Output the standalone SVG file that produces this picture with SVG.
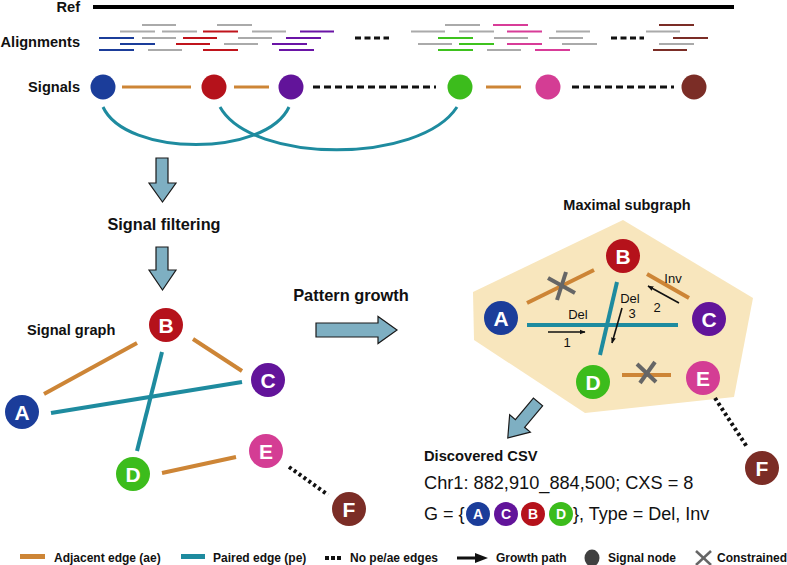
<svg xmlns="http://www.w3.org/2000/svg" width="787" height="565" viewBox="0 0 787 565">
<style>
text{font-family:"Liberation Sans",Arial,sans-serif;fill:#111}
.b{font-weight:bold}
.lbl{font-weight:bold;font-size:14.6px;text-anchor:end}
.ae{stroke:#cd8536;stroke-width:4;fill:none}
.pe{stroke:#1e8b9f;stroke-width:4;fill:none}
.ae3{stroke:#cd8536;stroke-width:3;fill:none}
.pe3{stroke:#1e8b9f;stroke-width:3;fill:none}
.no{stroke:#111;stroke-width:4;stroke-dasharray:3 3;fill:none}
.dash{stroke:#111;stroke-width:3;stroke-dasharray:7 4;fill:none}
.g{stroke:#aaaaaa;stroke-width:2}
.bl{stroke:#1b3d9a;stroke-width:2}
.rd{stroke:#c0141c;stroke-width:2}
.pu{stroke:#6a14a6;stroke-width:2}
.gr{stroke:#3ec21e;stroke-width:2}
.pk{stroke:#d83c98;stroke-width:2}
.br{stroke:#7b2d26;stroke-width:2}
.arrow{fill:#7eafc2;stroke:#1a1a1a;stroke-width:1.2}
.x{stroke:#666;stroke-width:4;fill:none}
.gp{stroke:#111;stroke-width:1.6;fill:none}
.nl{fill:#fff;font-weight:bold;font-size:21px;text-anchor:middle}
.sl{fill:#fff;font-weight:bold;font-size:14px;text-anchor:middle}
.cA{fill:#1b3d9a}.cB{fill:#b5121b}.cC{fill:#62149a}.cD{fill:#3cbc1c}.cE{fill:#d43d94}.cF{fill:#7b2d26}
.el{font-size:13px;text-anchor:middle}
.leg{font-weight:bold;font-size:12px}
</style>
<defs>
<marker id="ah" viewBox="0 0 10 10" refX="9" refY="5" markerWidth="6" markerHeight="6" orient="auto" markerUnits="userSpaceOnUse">
<path d="M0,1 L10,5 L0,9 z" fill="#111"/>
</marker>
</defs>

<!-- Top: reference, alignments, signals -->
<g id="ref">
<text class="lbl" x="80" y="12">Ref</text>
<line x1="93" y1="7" x2="734" y2="7" stroke="#000" stroke-width="4"/>
</g>
<g id="alignments">
<text class="lbl" x="80" y="47">Alignments</text>
<line class="g" x1="142" y1="25" x2="176" y2="25"/>
<line class="g" x1="217" y1="25" x2="252" y2="25"/>
<line class="g" x1="120" y1="31.5" x2="155" y2="31.5"/>
<line class="g" x1="162" y1="31.5" x2="197" y2="31.5"/>
<line class="rd" x1="203" y1="31.5" x2="238" y2="31.5"/>
<line class="g" x1="252" y1="31.5" x2="286" y2="31.5"/>
<line class="pu" x1="300" y1="31.5" x2="334" y2="31.5"/>
<line class="bl" x1="99" y1="38" x2="134" y2="38"/>
<line class="g" x1="142" y1="38" x2="176" y2="38"/>
<line class="rd" x1="183" y1="38" x2="217" y2="38"/>
<line class="g" x1="238" y1="38" x2="272" y2="38"/>
<line class="pu" x1="286" y1="38" x2="321" y2="38"/>
<line class="bl" x1="120" y1="44" x2="155" y2="44"/>
<line class="rd" x1="176" y1="44" x2="210" y2="44"/>
<line class="g" x1="224" y1="44" x2="258" y2="44"/>
<line class="pu" x1="272" y1="44" x2="307" y2="44"/>
<line class="bl" x1="99" y1="50" x2="134" y2="50"/>
<line class="g" x1="148" y1="50" x2="182" y2="50"/>
<line class="rd" x1="203" y1="50" x2="238" y2="50"/>
<line class="pu" x1="279" y1="50" x2="314" y2="50"/>
<line x1="355" y1="38" x2="389" y2="38" stroke="#111" stroke-width="3" stroke-dasharray="6 3.5"/>
<line class="g" x1="445" y1="25" x2="480" y2="25"/>
<line class="pk" x1="493" y1="25" x2="528" y2="25"/>
<line class="br" x1="659" y1="25" x2="694" y2="25"/>
<line class="g" x1="411" y1="31.5" x2="445" y2="31.5"/>
<line class="g" x1="459" y1="31.5" x2="494" y2="31.5"/>
<line class="pk" x1="507" y1="31.5" x2="542" y2="31.5"/>
<line class="g" x1="556" y1="31.5" x2="590" y2="31.5"/>
<line class="g" x1="646" y1="31.5" x2="680" y2="31.5"/>
<line class="gr" x1="438" y1="38" x2="473" y2="38"/>
<line class="g" x1="494" y1="38" x2="528" y2="38"/>
<line class="g" x1="549" y1="38" x2="583" y2="38"/>
<line x1="611" y1="38" x2="644" y2="38" stroke="#111" stroke-width="3" stroke-dasharray="6 3.5"/>
<line class="br" x1="673" y1="38" x2="708" y2="38"/>
<line class="g" x1="418" y1="44" x2="452" y2="44"/>
<line class="gr" x1="459" y1="44" x2="494" y2="44"/>
<line class="pk" x1="507" y1="44" x2="542" y2="44"/>
<line class="g" x1="562" y1="44" x2="597" y2="44"/>
<line class="g" x1="659" y1="44" x2="694" y2="44"/>
<line class="gr" x1="438" y1="50" x2="473" y2="50"/>
<line class="g" x1="487" y1="50" x2="521" y2="50"/>
<line class="pk" x1="535" y1="50" x2="570" y2="50"/>
<line class="br" x1="653" y1="50" x2="687" y2="50"/>
</g>
<g id="signals-connectors">
<line class="ae3" x1="122" y1="87" x2="191" y2="87"/>
<line class="ae3" x1="234" y1="87" x2="269" y2="87"/>
<line class="ae3" x1="486" y1="87" x2="521" y2="87"/>
<line class="dash" x1="313" y1="87" x2="436" y2="87"/>
<line class="dash" x1="572" y1="87" x2="674" y2="87"/>
<path class="pe3" d="M103,107 C126,157 266,157 289,107"/>
<path class="pe3" d="M220,107 C252,164 420,164 457,107"/>
</g>
<g id="signals">
<text class="lbl" x="80" y="92">Signals</text>
<circle class="cA" cx="103" cy="87" r="12.5"/>
<circle class="cB" cx="214" cy="87" r="12.5"/>
<circle class="cC" cx="291" cy="87" r="12.5"/>
<circle class="cD" cx="460" cy="87" r="12.5"/>
<circle class="cE" cx="548" cy="87" r="12.5"/>
<circle class="cF" cx="694" cy="87" r="12.5"/>
</g>

<!-- Flow arrows -->
<g id="arrow-filter">
<polygon class="arrow" points="156,158 168,158 168,183 176,183 162.5,202 149,183 156,183"/>
</g>
<g id="step-filter"><text class="b" x="164" y="230" font-size="16.3" text-anchor="middle">Signal filtering</text></g>
<g id="arrow-graph">
<polygon class="arrow" points="156,247 168,247 168,270 176,270 162.5,290 149,270 156,270"/>
</g>
<g id="step-growth"><text class="b" x="351" y="301" font-size="16.4" text-anchor="middle">Pattern growth</text></g>
<g id="arrow-growth">
<polygon class="arrow" points="316,323 378,323 378,316.5 397,330 378,343.5 378,337 316,337"/>
</g>

<!-- Signal graph -->
<g id="signal-graph-title"><text class="b" x="27" y="335" font-size="14.6">Signal graph</text></g>
<g id="signal-graph-edges">
<line class="ae" x1="44" y1="394" x2="137" y2="343"/>
<line class="ae" x1="193" y1="339" x2="242" y2="371"/>
<line class="pe" x1="51" y1="413" x2="242" y2="382"/>
<line class="pe" x1="162" y1="352" x2="137" y2="451"/>
<line class="ae" x1="162" y1="473" x2="236" y2="457"/>
<line class="no" x1="289" y1="467" x2="328" y2="495"/>
</g>
<g id="sg-B"><circle class="cB" cx="166" cy="325" r="17"/><text class="nl" x="166" y="332.5">B</text></g>
<g id="sg-A"><circle class="cA" cx="22" cy="412" r="17"/><text class="nl" x="22" y="419.5">A</text></g>
<g id="sg-C"><circle class="cC" cx="268" cy="380" r="17"/><text class="nl" x="268" y="387.5">C</text></g>
<g id="sg-D"><circle class="cD" cx="133" cy="474" r="17"/><text class="nl" x="133" y="481.5">D</text></g>
<g id="sg-E"><circle class="cE" cx="266" cy="451" r="17"/><text class="nl" x="266" y="458.5">E</text></g>
<g id="sg-F"><circle class="cF" cx="349" cy="509" r="17"/><text class="nl" x="349" y="516.5">F</text></g>

<!-- Maximal subgraph -->
<g id="maximal-subgraph">
<text class="b" x="627" y="210" font-size="14.5" text-anchor="middle">Maximal subgraph</text>
<polygon points="623,220 753,298 734,397 585,413 474,340 473,292" fill="#f8e6bd"/>
</g>
<g id="ms-edges">
<line class="ae" x1="527" y1="303" x2="594" y2="270"/>
<line class="x" x1="548" y1="278" x2="575" y2="293"/>
<line class="x" x1="566" y1="272" x2="557" y2="300"/>
<line class="ae" x1="647" y1="274" x2="689" y2="298"/>
<line class="pe" x1="527" y1="325" x2="678" y2="325"/>
<line class="pe" x1="617" y1="282" x2="600" y2="355"/>
<line class="ae" x1="622" y1="375" x2="671" y2="375"/>
<line class="x" x1="637" y1="364" x2="656" y2="382"/>
<line class="x" x1="655" y1="362" x2="640" y2="383"/>
<line class="no" x1="715" y1="398" x2="747" y2="447"/>
<line class="gp" x1="548" y1="332" x2="585" y2="332" marker-end="url(#ah)"/>
<line class="gp" x1="679" y1="303" x2="648" y2="286" marker-end="url(#ah)"/>
<line class="gp" x1="622" y1="308" x2="612" y2="343" marker-end="url(#ah)"/>
<text class="el" x="578" y="319">Del</text>
<text class="el" x="567" y="347">1</text>
<text class="el" x="673" y="283">Inv</text>
<text class="el" x="657" y="312">2</text>
<text class="el" x="630" y="303">Del</text>
<text class="el" x="632" y="318">3</text>
</g>
<g id="ms-B"><circle class="cB" cx="623" cy="256" r="17"/><text class="nl" x="623" y="263.5">B</text></g>
<g id="ms-A"><circle class="cA" cx="501" cy="318" r="17"/><text class="nl" x="501" y="325.5">A</text></g>
<g id="ms-C"><circle class="cC" cx="709" cy="319" r="17"/><text class="nl" x="709" y="326.5">C</text></g>
<g id="ms-D"><circle class="cD" cx="593" cy="382" r="17"/><text class="nl" x="593" y="389.5">D</text></g>
<g id="ms-E"><circle class="cE" cx="703" cy="378" r="17"/><text class="nl" x="703" y="385.5">E</text></g>
<g id="ms-F"><circle class="cF" cx="762" cy="468" r="17"/><text class="nl" x="762" y="475.5">F</text></g>

<g id="arrow-discover">
<polygon class="arrow" transform="translate(538,402) rotate(130)" points="0,-6 28,-6 28,-13.5 47,0 28,13.5 28,6 0,6"/>
</g>

<!-- Discovered CSV -->
<g id="discovered-csv">
<text class="b" x="424" y="461" font-size="14.7">Discovered CSV</text>
<text x="424" y="489" font-size="18.2">Chr1: 882,910_884,500; CXS = 8</text>
<text x="424" y="520" font-size="18">G = {</text>
<circle class="cA" cx="478" cy="514" r="12"/><text class="sl" x="478" y="519">A</text>
<circle class="cC" cx="506" cy="514" r="12"/><text class="sl" x="506" y="519">C</text>
<circle class="cB" cx="533" cy="514" r="12"/><text class="sl" x="533" y="519">B</text>
<circle class="cD" cx="561" cy="514" r="12"/><text class="sl" x="561" y="519">D</text>
<text x="573" y="520" font-size="18">}, Type = Del, Inv</text>
</g>

<!-- Legend -->
<g id="legend">
<rect x="20" y="554" width="25" height="5" fill="#cd8536"/>
<text class="leg" x="54" y="562">Adjacent edge (ae)</text>
<rect x="181" y="554" width="24" height="5" fill="#1e8b9f"/>
<text class="leg" x="213" y="562">Paired edge (pe)</text>
<rect x="325" y="556" width="4" height="4" fill="#111"/>
<rect x="331" y="556" width="4" height="4" fill="#111"/>
<rect x="337" y="556" width="4" height="4" fill="#111"/>
<text class="leg" x="350" y="562">No pe/ae edges</text>
<polygon points="457,556.5 475,556.5 475,553 488,558 475,563 475,559.5 457,559.5" fill="#111"/>
<text class="leg" x="496" y="562">Growth path</text>
<ellipse cx="592" cy="558" rx="7.5" ry="8.5" fill="#404040"/>
<text class="leg" x="608" y="562">Signal node</text>
<line x1="696" y1="551" x2="711" y2="565" stroke="#666" stroke-width="2.5"/>
<line x1="711" y1="551" x2="696" y2="565" stroke="#666" stroke-width="2.5"/>
<text class="leg" x="717" y="562">Constrained</text>
</g>
</svg>
